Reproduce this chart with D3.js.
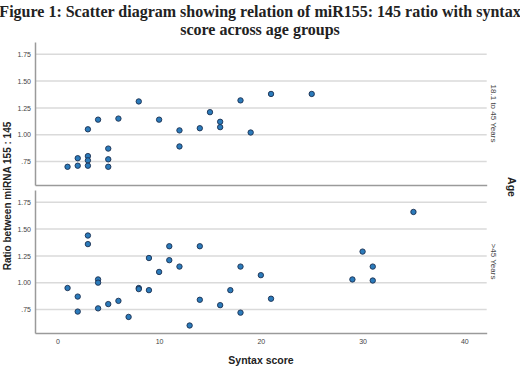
<!DOCTYPE html>
<html>
<head>
<meta charset="utf-8">
<script src="https://cdn.jsdelivr.net/npm/d3@7"></script>
<style>
  body { margin: 0; background: #fff; }
  svg { display: block; }
</style>
</head>
<body>
<div class="chart-wrapper"></div>
<script>
// syntax score for each patient, split by age group
let youngSyntax = [1, 2, 2, 3, 3, 3, 3, 4, 5, 5, 5, 6, 8, 10, 12, 12, 14, 15, 16, 16, 18, 19, 21, 25];
let youngRatio  = [0.70, 0.78, 0.71, 1.05, 0.80, 0.76, 0.71, 1.14, 0.87, 0.77, 0.70, 1.15, 1.31, 1.14, 1.04, 0.89, 1.06, 1.21, 1.12, 1.07, 1.32, 1.02, 1.38, 1.38];

let oldSyntax = [1, 2, 2, 3, 3, 4, 4, 4, 5, 6, 7, 8, 8, 9, 9, 10, 11, 11, 12, 13, 14, 14, 16, 17, 18, 18, 20, 21, 29, 30, 31, 31, 35];
let oldRatio  = [0.95, 0.87, 0.73, 1.44, 1.36, 1.03, 1.00, 0.76, 0.80, 0.83, 0.68, 0.95, 0.94, 1.23, 0.93, 1.10, 1.34, 1.21, 1.15, 0.60, 1.34, 0.84, 0.79, 0.93, 1.15, 0.72, 1.07, 0.85, 1.03, 1.29, 1.15, 1.02, 1.66];

let ageGroups = ["18.1 to 45 Years", ">45 Years"];
let yTicks = [0.75, 1.00, 1.25, 1.50, 1.75];
let xTicks = [0, 10, 20, 30, 40];

let w = 520;
let h = 368;
let left = 35;
let right = 486.7;
let panels = [{top: 42, bottom: 185}, {top: 190, bottom: 333}];

let viz = d3.select(".chart-wrapper")
          .append("svg")
          .attr("width", w)
          .attr("height", h)
;

// title, two lines
let titleLines = ["Figure 1: Scatter diagram showing relation of miR155: 145 ratio with syntax", "score across age groups"];
viz.selectAll(".title").data(titleLines).enter()
   .append("text")
   .attr("class", "title")
   .attr("x", w/2)
   .attr("y", (d,i)=>17+i*18)
   .attr("text-anchor", "middle")
   .attr("font-family", "'Liberation Serif', 'Times New Roman', serif")
   .attr("font-weight", "bold")
   .attr("font-size", 16)
   .attr("fill", "#222")
   .text(d=>d)
;

let xScale = d3.scaleLinear().domain([-2.2, 42.2]).range([left, right]);

let allData = [
  youngSyntax.map((s,i)=>({x: s, y: youngRatio[i]})),
  oldSyntax.map((s,i)=>({x: s, y: oldRatio[i]}))
];

panels.forEach(function(p, k){
  let yScale = d3.scaleLinear().domain([0.53, 1.865]).range([p.bottom, p.top]);
  let g = viz.append("g").attr("class", "panel");

  // gridlines
  g.selectAll(".grid").data(yTicks).enter()
   .append("line")
   .attr("x1", left).attr("x2", right)
   .attr("y1", d=>yScale(d)).attr("y2", d=>yScale(d))
   .attr("stroke", "#dadada")
   .attr("stroke-width", 1.5)
  ;

  // y axis
  let yAxis = d3.axisLeft(yScale).tickValues(yTicks).tickSize(0).tickPadding(4)
                .tickFormat(d=> d<1 ? ".75" : d3.format(".2f")(d));
  let yAxisGroup = g.append("g").attr("transform", "translate("+left+",0)").call(yAxis);
  yAxisGroup.select(".domain").attr("stroke", "#9a9a9a").attr("stroke-width", 1.5);
  yAxisGroup.selectAll("text").attr("font-family", "Arial, 'Liberation Sans', sans-serif").attr("font-size", 7).attr("fill", "#444");

  // bottom line of panel (x axis)
  let xAxis = d3.axisBottom(xScale).tickValues(xTicks).tickSize(0).tickPadding(6);
  let xAxisGroup = g.append("g").attr("transform", "translate(0,"+p.bottom+")").call(xAxis);
  xAxisGroup.select(".domain").attr("stroke", "#9a9a9a").attr("stroke-width", 1.5);
  xAxisGroup.selectAll("text").attr("font-family", "Arial, 'Liberation Sans', sans-serif").attr("font-size", 7).attr("fill", "#444");
  if (k==0){
    xAxisGroup.selectAll("text").remove();
  }

  // points
  g.selectAll(".datapoint").data(allData[k]).enter()
   .append("circle")
   .attr("class", "datapoint")
   .attr("cx", d=>xScale(d.x))
   .attr("cy", d=>yScale(d.y))
   .attr("r", 2.7)
   .attr("fill", "#2b7bbb")
   .attr("stroke", "#1b2f4f")
   .attr("stroke-width", 0.9)
  ;

  // strip label on the right
  let cy = (p.top+p.bottom)/2;
  g.append("text")
   .attr("transform", "translate(491,"+cy+") rotate(90)")
   .attr("text-anchor", "middle")
   .attr("font-family", "Arial, 'Liberation Sans', sans-serif")
   .attr("font-size", 8)
   .attr("fill", "#444")
   .text(ageGroups[k])
  ;
});

// axis titles
viz.append("text")
   .attr("x", 261)
   .attr("y", 364)
   .attr("text-anchor", "middle")
   .attr("font-family", "Arial, 'Liberation Sans', sans-serif")
   .attr("font-weight", "bold")
   .attr("font-size", 10.5)
   .attr("fill", "#222")
   .text("Syntax score")
;
viz.append("text")
   .attr("transform", "translate(10.5,196) rotate(-90)")
   .attr("text-anchor", "middle")
   .attr("font-family", "Arial, 'Liberation Sans', sans-serif")
   .attr("font-weight", "bold")
   .attr("font-size", 10)
   .attr("fill", "#222")
   .text("Ratio between miRNA 155 : 145")
;
viz.append("text")
   .attr("transform", "translate(508,187) rotate(90)")
   .attr("text-anchor", "middle")
   .attr("font-family", "Arial, 'Liberation Sans', sans-serif")
   .attr("font-weight", "bold")
   .attr("font-size", 10.5)
   .attr("fill", "#222")
   .text("Age")
;
</script>
</body>
</html>
